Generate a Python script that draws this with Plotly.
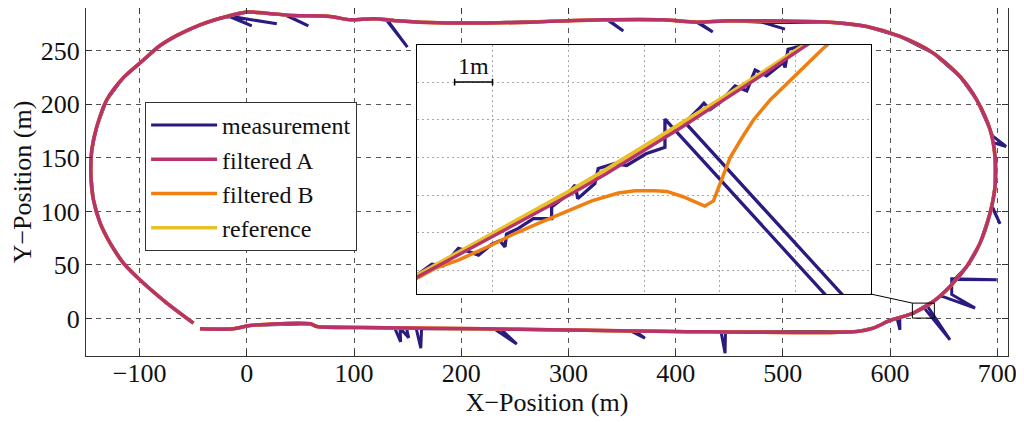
import plotly.graph_objects as go

# ---------------- data ----------------
# common path of reference / filtered A / filtered B at full scale (m)
track_x = [-43.6, -12.5, 3.1, 59.0, 65.3, 108.7, 220.6, 282.9, 397.9, 568.9, 584.4, 600.0,
           621.7, 640.3, 655.9, 671.5, 683.9, 693.3, 697.9, 697.9, 693.3, 680.8, 665.2, 640.3,
           609.3, 578.2, 547.1, 450.7, 419.7, 388.5, 332.6, 264.2, 214.5, 161.6, 139.9, 118.0,
           96.3, 77.7, 43.4, 18.6, 0.0, -18.7, -43.6, -66.0, -81.5, -97.5, -115.1, -130.6,
           -139.9, -144.6, -145.5, -143.1, -136.8, -127.5, -115.1, -96.5, -74.6, -49.8]
track_y = [-9.6, -9.6, -6.5, -4.9, -7.4, -8.4, -9.6, -10.5, -12.1, -12.1, -8.9, -1.8,
           5.1, 15.9, 29.9, 48.6, 70.4, 98.5, 123.3, 151.3, 176.3, 204.3, 226.0, 247.9,
           263.4, 272.7, 276.5, 278.0, 276.8, 279.0, 279.0, 276.8, 275.9, 276.8, 278.0, 279.9,
           279.0, 282.1, 283.0, 285.2, 286.2, 282.1, 274.3, 264.0, 254.5, 240.5, 225.0, 204.3,
           179.3, 157.6, 135.8, 110.9, 89.1, 70.4, 51.8, 33.1, 14.4, -4.3]

# measurement at full scale (with outliers)
meas_x = [-43.6, -12.5, 3.1, 59.0, 65.3, 108.7,
          138.0, 143.5, 143.0, 151.0, 149.0,
          158.0, 162.3, 163.0,
          220.6,
          231.0, 251.8, 237.0,
          282.9,
          358.0, 371.4, 362.0,
          397.9,
          442.3, 446.1, 446.5,
          568.9, 584.4, 600.0,
          606.5, 609.2, 609.0,
          621.7,
          631.0, 655.9, 634.0,
          640.3,
          647.5, 679.3, 657.5, 657.5, 699.5, 660.0,
          671.5, 683.9, 693.3,
          694.8, 702.6, 695.0,
          697.9, 697.9,
          696.8, 708.2, 695.6,
          693.3, 680.8, 665.2, 640.3, 609.3, 578.2, 547.1,
          481.5, 502.0, 480.5,
          450.7,
          421.0, 434.6, 419.7,
          388.5,
          337.0, 351.2, 336.0,
          332.6, 264.2, 214.5, 161.6, 139.9,
          130.5, 149.8, 129.5,
          118.0, 96.3, 77.7, 43.4,
          37.3, 57.4, 36.0,
          18.6, 0.0,
          -15.0, 28.0, -15.6, 4.6, -16.2,
          -24.9, -43.6, -66.0, -81.5, -97.5, -115.1, -130.6, -139.9, -144.6, -145.5,
          -143.1, -136.8, -127.5, -115.1, -96.5, -74.6, -49.8]
meas_y = [-9.6, -9.6, -6.5, -4.9, -7.4, -8.4,
          -9.0, -21.8, -9.1, -18.0, -9.2,
          -9.3, -27.6, -9.3,
          -9.6,
          -9.8, -23.9, -9.9,
          -10.5,
          -11.6, -18.3, -11.7,
          -12.1,
          -12.1, -32.3, -12.1,
          -12.1, -8.9, -1.8,
          0.3, -10.5, 1.1,
          5.1,
          10.9, -19.9, 12.7,
          15.9,
          21.2, 9.7, 22.5, 37.0, 36.2, 36.5,
          48.6, 70.4, 98.5,
          104.5, 88.5, 105.5,
          123.3, 151.3,
          164.0, 160.7, 170.6,
          176.3, 204.3, 226.0, 247.9, 263.4, 272.7, 276.5,
          276.6, 270.3, 276.7,
          278.0,
          277.0, 267.5, 276.8,
          279.0,
          279.0, 268.5, 279.0,
          279.0, 276.8, 275.9, 276.8, 278.0,
          279.5, 253.5, 279.6,
          279.9, 279.0, 282.1, 283.0,
          283.2, 273.4, 283.3,
          285.2, 286.2,
          282.3, 275.2, 282.1, 273.2, 281.9,
          280.6, 274.3, 264.0, 254.5, 240.5, 225.0, 204.3, 179.3, 157.6, 135.8,
          110.9, 89.1, 70.4, 51.8, 33.1, 14.4, -4.3]

# zoomed section (inset), metres
inset_ref_x = [624.5, 625.0, 626.0, 627.0, 628.0, 629.0, 630.0, 631.0, 632.0, 633.0, 634.0, 635.2, 636.0]
inset_ref_y = [4.60, 4.88, 5.42, 5.98, 6.53, 7.09, 7.68, 8.29, 8.91, 9.54, 10.18, 10.95, 11.50]

inset_a_x = [624.5, 625.0, 626.0, 627.0, 628.0, 629.0, 630.0, 631.0, 632.0, 633.0, 634.0, 635.2, 636.0]
inset_a_y = [4.55, 4.82, 5.36, 5.91, 6.45, 6.99, 7.57, 8.18, 8.81, 9.46, 10.11, 10.92, 11.45]

inset_b_x = [624.5, 624.96, 625.48, 626.1, 626.98, 627.6, 628.3, 629.0, 629.62, 630.32, 630.76,
             631.29, 631.6, 632.03, 632.6, 632.83, 633.0, 633.27, 633.6, 633.88, 634.32, 634.85,
             635.73, 636.2]
inset_b_y = [4.55, 4.77, 5.06, 5.28, 5.68, 5.99, 6.29, 6.60, 6.85, 7.06, 7.12,
             7.12, 7.10, 6.96, 6.71, 6.85, 7.30, 8.00, 8.55, 8.99, 9.52, 10.05,
             10.90, 11.30]

inset_m_x = [624.6, 624.96, 625.40, 625.70, 626.10, 626.27, 626.63, 626.98, 627.20, 627.33,
             627.37, 627.68, 628.08, 628.56, 628.56, 628.91, 629.18, 629.25, 629.70, 629.79,
             630.23, 630.54, 631.05, 631.55, 631.55, 636.50, 636.95, 632.08, 632.48, 632.58,
             632.74, 633.00, 633.40, 633.71, 633.93, 634.23, 634.67, 634.72, 634.80, 635.16,
             636.00]
inset_m_y = [4.65, 4.85, 5.17, 5.13, 5.59, 5.54, 5.41, 5.70, 5.79, 5.63,
             5.97, 6.12, 6.38, 6.38, 6.69, 6.96, 7.27, 6.91, 7.31, 7.71,
             7.84, 7.79, 8.10, 8.27, 9.02, 3.57, 3.57, 8.93, 9.33, 9.44,
             9.27, 9.46, 9.90, 9.77, 10.32, 10.17, 10.52, 10.39, 10.87, 10.96,
             11.40]

# zoom window marker on the main plot and scale bar in the inset (m)
zoom_box_x = [620.8, 641.3]
zoom_box_y = [0.4, 14.4]
scalebar_x = [626.0, 627.0]
scalebar_y = 10.0

# ---------------- styling ----------------
C_MEAS = "#2b1b80"
C_A = "#b8336a"
C_B = "#f07f12"
C_REF = "#e8c12a"
FONT = "Liberation Serif, DejaVu Serif, Times New Roman, serif"

X_RANGE = [-150, 710]
Y_RANGE = [-35, 290]
INSET_XR = [625.0, 636.98]
INSET_YR = [4.38, 10.985]
INSET_DX = [0.3587, 0.8511]
INSET_DY = [0.1782, 0.8937]

fig = go.Figure()

# main plot
fig.add_trace(go.Scatter(x=meas_x, y=meas_y, mode="lines", name="measurement",
                         line=dict(color=C_MEAS, width=3), legendrank=1))
fig.add_trace(go.Scatter(x=track_x, y=track_y, mode="lines", name="reference",
                         line=dict(color=C_REF, width=3.5, shape="spline", smoothing=0.8),
                         legendrank=4))
fig.add_trace(go.Scatter(x=track_x, y=track_y, mode="lines", name="filtered B",
                         line=dict(color=C_B, width=3.5, shape="spline", smoothing=0.8),
                         legendrank=3))
fig.add_trace(go.Scatter(x=track_x, y=track_y, mode="lines", name="filtered A",
                         line=dict(color=C_A, width=3.5, shape="spline", smoothing=0.8),
                         legendrank=2))

# inset
fig.add_trace(go.Scatter(x=inset_m_x, y=inset_m_y, mode="lines", xaxis="x2", yaxis="y2",
                         line=dict(color=C_MEAS, width=3.3), showlegend=False))
fig.add_trace(go.Scatter(x=inset_ref_x, y=inset_ref_y, mode="lines", xaxis="x2", yaxis="y2",
                         line=dict(color=C_REF, width=4), showlegend=False))
fig.add_trace(go.Scatter(x=inset_b_x, y=inset_b_y, mode="lines", xaxis="x2", yaxis="y2",
                         line=dict(color=C_B, width=3.5), showlegend=False))
fig.add_trace(go.Scatter(x=inset_a_x, y=inset_a_y, mode="lines", xaxis="x2", yaxis="y2",
                         line=dict(color=C_A, width=3.3), showlegend=False))

# inset corners in main-axis data coordinates
def to_main_x(f):
    return X_RANGE[0] + f * (X_RANGE[1] - X_RANGE[0])

def to_main_y(f):
    return Y_RANGE[0] + f * (Y_RANGE[1] - Y_RANGE[0])

shapes = [
    # white panel hiding the main grid behind the inset
    dict(type="rect", xref="x", yref="y", layer="between",
         x0=to_main_x(INSET_DX[0]), x1=to_main_x(INSET_DX[1]),
         y0=to_main_y(INSET_DY[0]), y1=to_main_y(INSET_DY[1]),
         fillcolor="white", line=dict(width=0)),
    # zoom window
    dict(type="rect", xref="x", yref="y", layer="above",
         x0=zoom_box_x[0], x1=zoom_box_x[1], y0=zoom_box_y[0], y1=zoom_box_y[1],
         line=dict(color="black", width=1)),
    # connector
    dict(type="line", xref="x", yref="y", layer="above",
         x0=to_main_x(INSET_DX[1]), y0=to_main_y(INSET_DY[0]),
         x1=zoom_box_x[0], y1=zoom_box_y[1],
         line=dict(color="black", width=1)),
    # scale bar
    dict(type="line", xref="x2", yref="y2", x0=scalebar_x[0], x1=scalebar_x[1],
         y0=scalebar_y, y1=scalebar_y, line=dict(color="black", width=1.5)),
    dict(type="line", xref="x2", yref="y2", x0=scalebar_x[0], x1=scalebar_x[0],
         y0=scalebar_y - 0.09, y1=scalebar_y + 0.09, line=dict(color="black", width=1.5)),
    dict(type="line", xref="x2", yref="y2", x0=scalebar_x[1], x1=scalebar_x[1],
         y0=scalebar_y - 0.09, y1=scalebar_y + 0.09, line=dict(color="black", width=1.5)),
]

annotations = [
    dict(xref="x2", yref="y2", x=(scalebar_x[0] + scalebar_x[1]) / 2, y=scalebar_y,
         text="1m", showarrow=False, yanchor="bottom", yshift=1,
         font=dict(family=FONT, size=24, color="#111")),
]

axis_common = dict(showline=True, linecolor="#333", linewidth=1, mirror="ticks",
                   ticks="inside", ticklen=6, tickcolor="#333",
                   showgrid=True, gridcolor="#555", gridwidth=1, griddash="5px,5px",
                   zeroline=False, tickfont=dict(family=FONT, size=26, color="#111"))

# the page shows the figure 8 px in from the top-left corner, so the figure is
# 8 px smaller and its left/top margins are 8 px smaller
fig.update_layout(
    width=1016, height=414,
    margin=dict(l=78, r=16, t=0, b=66),
    paper_bgcolor="white", plot_bgcolor="white",
    font=dict(family=FONT, size=26, color="#111"),
    xaxis=dict(range=X_RANGE, dtick=100, tick0=0, ticklabelstandoff=-6,
               title=dict(text="X−Position (m)", font=dict(family=FONT, size=26), standoff=0),
               **axis_common),
    yaxis=dict(range=Y_RANGE, dtick=50, tick0=0,
               title=dict(text="Y−Position (m)", font=dict(family=FONT, size=26), standoff=13),
               **axis_common),
    xaxis2=dict(domain=INSET_DX, anchor="y2", range=INSET_XR, tick0=625, dtick=2,
                showline=True, linecolor="black", linewidth=1.2, mirror=True,
                ticks="", showticklabels=False, showgrid=True, gridcolor="#a8a8a8",
                gridwidth=1, griddash="2px,3px", zeroline=False),
    yaxis2=dict(domain=INSET_DY, anchor="x2", range=INSET_YR, tick0=0, dtick=1,
                showline=True, linecolor="black", linewidth=1.2, mirror=True,
                ticks="", showticklabels=False, showgrid=True, gridcolor="#a8a8a8",
                gridwidth=1, griddash="2px,3px", zeroline=False),
    legend=dict(x=0.0641, y=0.730, xanchor="left", yanchor="top",
                bgcolor="white", bordercolor="#333", borderwidth=1,
                font=dict(family=FONT, size=24, color="#111"),
                itemwidth=66, tracegroupgap=0),
    shapes=shapes,
    annotations=annotations,
)

fig.write_html("out.html")
